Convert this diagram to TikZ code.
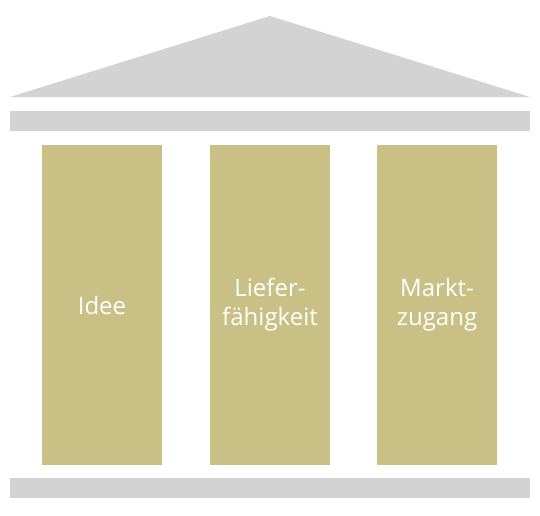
\documentclass[tikz,border=0pt]{standalone}
\usepackage{fontspec}
\setmainfont{Open Sans}
\definecolor{roofgray}{HTML}{D3D3D3}
\definecolor{pillar}{HTML}{C8C084}
\begin{document}
\begin{tikzpicture}[x=1pt,y=-1pt,
  graypart/.style={fill=roofgray,draw=none},
  pillarbox/.style={fill=pillar,draw=none,minimum width=120pt,minimum height=320pt,
    text=white,font=\fontsize{24}{29}\selectfont,align=center,inner sep=0pt}]
\useasboundingbox (0,0) rectangle (540,515);
\fill[graypart] (10,97) -- (270,16) -- (530,97) -- cycle;
\fill[graypart] (10,111) rectangle (530,131);
\node[pillarbox] (idee) at (102,305) {Idee};
\node[pillarbox] (liefer) at (270,305) {Liefer-\\fähigkeit};
\node[pillarbox] (markt) at (437,305) {Markt-\\zugang};
\fill[graypart] (10,478) rectangle (530,498);
\end{tikzpicture}
\end{document}
